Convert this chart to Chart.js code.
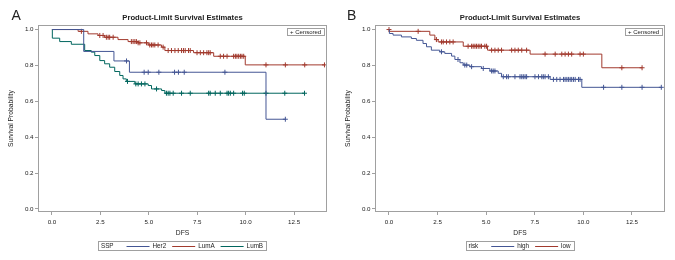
<!DOCTYPE html>
<html>
<head>
<meta charset="utf-8">
<script src="https://cdn.jsdelivr.net/npm/chart.js@4"></script>
<style>
  html, body { margin: 0; padding: 0; background: #fff; }
  #wrap { position: relative; width: 675px; height: 260px; overflow: hidden; }
  canvas { position: absolute; top: 0; }
  #chartA { left: 0; }
  #chartB { left: 337px; }
  .panel { position: absolute; top: 7.5px; font: 14px "Liberation Sans", Arial, sans-serif; line-height: 14px; color: #222; }
</style>
</head>
<body>
<div id="wrap">
  <canvas id="chartA" width="337" height="260"></canvas>
  <canvas id="chartB" width="338" height="260"></canvas>
  <div class="panel" style="left:11.5px">A</div>
  <div class="panel" style="left:347px">B</div>
</div>
<script>
// Kaplan-Meier estimates (DFS in years).
const xTicks = [0, 2.5, 5, 7.5, 10, 12.5];
const yTicks = [0, 0.2, 0.4, 0.6, 0.8, 1.0];

// Panel A, grouped by SSP
const her2Time = [0, 1.64, 3.2, 4.0, 11.05, 12.05];
const her2Surv = [1.0, 0.878, 0.825, 0.762, 0.50, 0.50];
const her2Cens = [3.85, 4.76, 4.97, 5.52, 6.33, 6.53, 6.83, 8.93, 12.05];

const lumATime = [0, 1.35, 1.86, 2.38, 2.72, 3.41, 3.93, 4.45, 4.97, 5.66, 5.83, 7.31, 8.35, 9.98, 14.07];
const lumASurv = [1.0, 0.99, 0.976, 0.967, 0.957, 0.944, 0.933, 0.926, 0.914, 0.902, 0.883, 0.871, 0.851, 0.803, 0.803];
const lumACens = [1.52, 2.47, 2.64, 2.81, 2.9, 2.98, 3.16, 4.1, 4.19, 4.28, 4.36, 4.45, 4.54, 4.88, 5.05,
  5.14, 5.22, 5.31, 5.48, 5.74, 6.0, 6.17, 6.35, 6.52, 6.69, 6.79, 6.88, 7.05, 7.14, 7.49, 7.66, 7.83,
  8.0, 8.09, 8.17, 8.69, 8.86, 9.04, 9.38, 9.47, 9.55, 9.64, 9.73, 9.81, 9.9, 11.05, 12.05, 13.05, 14.07];

const lumBTime = [0, 0.02, 0.4, 1.0, 1.69, 2.03, 2.21, 2.47, 2.72, 2.98, 3.24, 3.5, 3.67, 3.84, 4.28, 4.97, 5.14, 5.66, 5.83, 13.04];
const lumBSurv = [1.0, 0.952, 0.933, 0.918, 0.883, 0.874, 0.855, 0.827, 0.809, 0.79, 0.766, 0.744, 0.725, 0.711, 0.697, 0.688, 0.669, 0.66, 0.645, 0.645];
const lumBCens = [3.9, 4.33, 4.45, 4.62, 4.8, 5.4, 5.91, 6.0, 6.09, 6.26, 6.69, 7.14, 8.09, 8.17, 8.43, 8.69,
  9.04, 9.12, 9.21, 9.38, 9.84, 9.93, 11.05, 12.02, 13.04];

// Panel B, grouped by risk
const highTime = [0, 0.02, 0.21, 0.64, 1.15, 1.41, 1.75, 1.93, 2.18, 2.61, 2.87, 3.22, 3.39, 3.65, 3.82, 4.16, 4.76, 5.19, 5.62, 5.79, 8.29, 9.92, 14.01];
const highSurv = [1.0, 0.978, 0.969, 0.959, 0.95, 0.94, 0.922, 0.904, 0.885, 0.876, 0.867, 0.852, 0.833, 0.815, 0.802, 0.793, 0.783, 0.769, 0.756, 0.737, 0.722, 0.678, 0.678];
const highCens = [2.7, 3.55, 3.9, 4.0, 4.25, 4.85, 5.28, 5.36, 5.45, 5.88, 6.05, 6.14, 6.48, 6.74, 6.83, 6.91,
  7.0, 7.08, 7.51, 7.69, 7.86, 7.94, 8.03, 8.2, 8.46, 8.63, 8.8, 8.98, 9.06, 9.15, 9.23, 9.32, 9.4, 9.49,
  9.58, 9.75, 9.83, 11.04, 11.98, 13.02, 14.01];

const lowTime = [0, 0.02, 2.1, 2.36, 2.53, 3.82, 5.07, 7.26, 10.95, 13.02];
const lowSurv = [1.0, 0.99, 0.969, 0.944, 0.931, 0.907, 0.885, 0.863, 0.787, 0.787];
const lowCens = [0, 1.5, 2.44, 2.7, 2.79, 2.96, 3.13, 3.3, 4.07, 4.25, 4.33, 4.42, 4.5, 4.59, 4.68, 4.76,
  4.93, 5.02, 5.28, 5.45, 5.62, 5.79, 6.31, 6.48, 6.65, 6.83, 7.08, 8.03, 8.55, 8.89, 9.06, 9.23, 9.4,
  9.83, 10.0, 11.98, 13.02];

const FONT = '"Liberation Sans", Arial, sans-serif';
const TEXT = '#222';
const FRAME = '#a0a0a0';

// a censored subject sits on the curve at the level in force at its time
function stepValue(times, surv, t) {
  let v = surv[0];
  for (let i = 0; i < times.length; i++) if (times[i] <= t) v = surv[i];
  return v;
}

function curveSets(groups) {
  const sets = [];
  groups.forEach((g) => {
    sets.push({
      label: g.name,
      data: g.time.map((t, i) => ({ x: t, y: g.surv[i] })),
      showLine: true, stepped: true, fill: false,
      borderColor: g.color, borderWidth: 1, pointRadius: 0,
    });
    sets.push({
      label: g.name + " censored",
      data: g.cens.map((t) => ({ x: t, y: stepValue(g.time, g.surv, t) })),
      showLine: false, pointStyle: "cross", pointRadius: 2.5,
      borderColor: g.color, borderWidth: 1,
    });
  });
  return sets;
}

// full box around the plot area, like the SAS wall
const framePlugin = {
  id: "frame",
  afterDatasetsDraw(chart) {
    const { ctx, chartArea: a } = chart;
    ctx.save();
    ctx.strokeStyle = FRAME;
    ctx.lineWidth = 1;
    ctx.strokeRect(Math.round(a.left) + 0.5, Math.round(a.top) + 0.5,
      Math.round(a.right - a.left) - 1, Math.round(a.bottom - a.top) - 1);
    ctx.restore();
  },
};

// "+ Censored" key, top right inside the plot
const censoredPlugin = {
  id: "censoredKey",
  afterDraw(chart) {
    const { ctx, chartArea: a } = chart;
    ctx.save();
    ctx.font = `6px ${FONT}`;
    const text = "+ Censored";
    const w = Math.round(ctx.measureText(text).width + 6);
    const h = 7;
    const x = Math.round(a.right - 3 - w), y = Math.round(a.top + 3);
    ctx.fillStyle = "#fff";
    ctx.fillRect(x, y, w, h);
    ctx.strokeStyle = FRAME;
    ctx.lineWidth = 1;
    ctx.strokeRect(x + 0.5, y + 0.5, w, h);
    ctx.fillStyle = TEXT;
    ctx.textBaseline = "middle";
    ctx.fillText(text, x + 3, y + h / 2 + 1);
    ctx.restore();
  },
};

// boxed legend under the axis: group name, then line sample + label per group
const legendPlugin = {
  id: "kmLegend",
  afterDraw(chart, args, opts) {
    const { ctx, chartArea: a } = chart;
    ctx.save();
    ctx.font = `6.3px ${FONT}`;
    const pad = 2.5, titleGap = 13, lineLen = 23, lineGap = 3, itemGap = 6;
    let w = pad + ctx.measureText(opts.title).width + titleGap;
    opts.items.forEach((it, i) => {
      w += lineLen + lineGap + ctx.measureText(it.label).width;
      if (i < opts.items.length - 1) w += itemGap;
    });
    w += pad + 1;
    const h = 9, cy = 245.5;
    let x = (a.left + a.right) / 2 - w / 2;
    ctx.strokeStyle = FRAME;
    ctx.lineWidth = 1;
    ctx.strokeRect(Math.round(x) + 0.5, Math.round(cy - h / 2) + 0.5, Math.round(w), h);
    ctx.fillStyle = TEXT;
    ctx.textBaseline = "middle";
    x += pad;
    ctx.fillText(opts.title, x, cy + 0.5);
    x += ctx.measureText(opts.title).width + titleGap;
    opts.items.forEach((it) => {
      ctx.strokeStyle = it.color;
      ctx.beginPath();
      ctx.moveTo(x, Math.round(cy) + 0.5);
      ctx.lineTo(x + lineLen, Math.round(cy) + 0.5);
      ctx.stroke();
      x += lineLen + lineGap;
      ctx.fillText(it.label, x, cy + 0.5);
      x += ctx.measureText(it.label).width + itemGap;
    });
    ctx.restore();
  },
};

function makeChart(id, groups, legendTitle) {
  const tickFont = { family: FONT, size: 6.2 };
  const labelFont = { family: FONT, size: 6.7 };
  return new Chart(document.getElementById(id), {
    type: "scatter",
    data: { datasets: curveSets(groups) },
    options: {
      responsive: false,
      animation: false,
      devicePixelRatio: 1,
      layout: { padding: { left: 0, right: 10, top: 0, bottom: 21 } },
      plugins: {
        legend: { display: false },
        tooltip: { enabled: false },
        title: {
          display: true, fullSize: false, color: TEXT,
          text: "Product-Limit Survival Estimates",
          font: { family: FONT, size: 7.7, weight: "bold" },
          padding: { top: 13, bottom: 3 },
        },
        kmLegend: { title: legendTitle, items: groups.map((g) => ({ label: g.name, color: g.color })) },
      },
      scales: {
        x: {
          type: "linear", min: -0.72, max: 14.2,
          afterBuildTicks: (s) => { s.ticks = xTicks.map((v) => ({ value: v })); },
          afterFit: (s) => { s.height = 27; },
          border: { display: false },
          grid: { drawOnChartArea: false, drawTicks: true, tickLength: 3, color: FRAME },
          ticks: { font: tickFont, color: TEXT, padding: 3.2, maxRotation: 0, callback: (v) => v.toFixed(1) },
          title: { display: true, text: "DFS", font: labelFont, color: TEXT, padding: { top: 0, bottom: 2.3 } },
        },
        y: {
          type: "linear", min: -0.017, max: 1.024,
          afterBuildTicks: (s) => { s.ticks = yTicks.map((v) => ({ value: v })); },
          afterFit: (s) => { s.width = 38; },
          border: { display: false },
          grid: { drawOnChartArea: false, drawTicks: true, tickLength: 3, color: FRAME },
          ticks: { font: tickFont, color: TEXT, padding: 1.5, callback: (v) => v.toFixed(1) },
          title: { display: true, text: "Survival Probability", font: labelFont, color: TEXT, padding: { top: 7.5, bottom: 0 } },
        },
      },
    },
    plugins: [framePlugin, censoredPlugin, legendPlugin],
  });
}

makeChart("chartA", [
  { name: "Her2", color: "#445694", time: her2Time, surv: her2Surv, cens: her2Cens },
  { name: "LumA", color: "#A23A2E", time: lumATime, surv: lumASurv, cens: lumACens },
  { name: "LumB", color: "#01665E", time: lumBTime, surv: lumBSurv, cens: lumBCens },
], "SSP");

makeChart("chartB", [
  { name: "high", color: "#445694", time: highTime, surv: highSurv, cens: highCens },
  { name: "low", color: "#A23A2E", time: lowTime, surv: lowSurv, cens: lowCens },
], "risk");
</script>
</body>
</html>
